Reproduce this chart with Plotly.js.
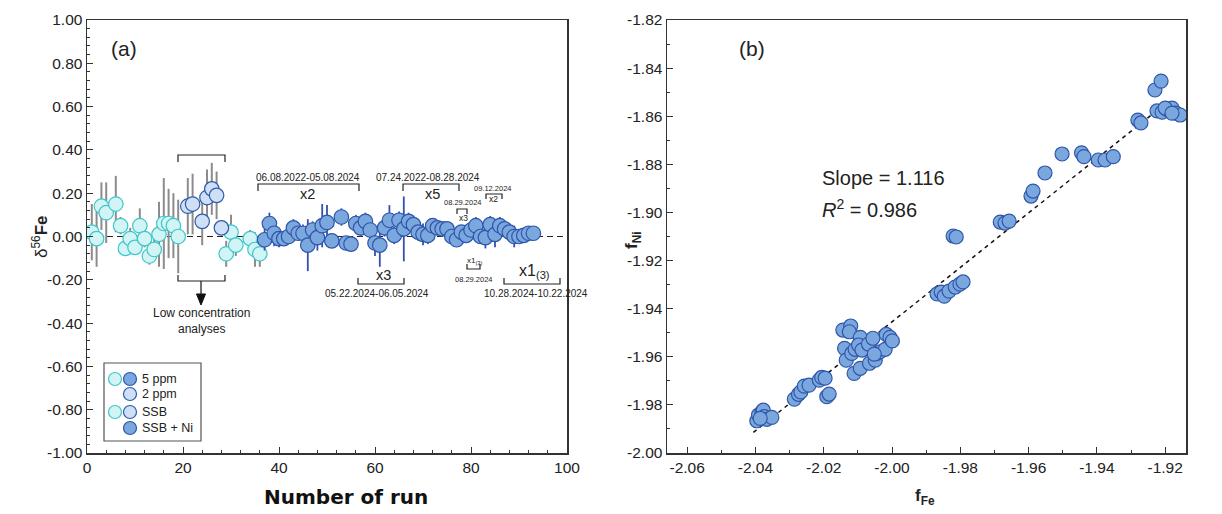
<!DOCTYPE html>
<html><head><meta charset="utf-8">
<script src="https://cdn.plot.ly/plotly-3.0.1.min.js"></script>
<style>html,body{margin:0;padding:0;background:#fff}#chart{width:1222px;height:514px}</style>
</head><body><div id="chart"></div>
<script>
// ---------- Panel (a) data ----------
const ssbRun = [1,2,3,4,6,7,8,9,10,11,12,13,14,15,16,17,18,19,29,30,31,34,35,36];
const ssbDelta = [0.02,-0.01,0.14,0.11,0.15,0.05,-0.055,-0.01,-0.05,0.05,-0.01,-0.09,-0.06,0.01,0.06,0.06,0.05,0.00,-0.08,0.02,-0.04,-0.01,-0.06,-0.08];
const ssbErr = [0.13,0.13,0.11,0.14,0.13,0.04,0.03,0.05,0.03,0.08,0.04,0.04,0.05,0.15,0.21,0.16,0.15,0.17,0.06,0.08,0.05,0.04,0.08,0.06];

const lowRun = [21,22,24,25,26,27,28];
const lowDelta = [0.14,0.15,0.07,0.18,0.22,0.19,0.04];
const lowErr = [0.13,0.14,0.11,0.13,0.12,0.11,0.03];

const niRun = [37,38,39,40,41,42,43,44,45,46,47,48,49,50,51,53,54,55,56,57,58,59,60,61,62,63,64,65,66,67,68,69,70,71,72,73,74,75,76,77,78,79,80,81,82,83,84,85,86,87,88,89,90,91,92,93];
const niDelta = [-0.015,0.06,0.015,-0.01,-0.01,0.00,0.04,0.015,0.015,-0.04,0.03,-0.005,0.05,0.065,-0.02,0.09,-0.03,-0.035,0.06,0.04,0.07,0.03,-0.03,-0.04,0.04,0.075,0.005,0.075,0.035,0.07,0.055,0.02,0.01,0.005,0.05,0.04,0.035,0.035,0.00,-0.015,0.02,0.005,0.03,0.05,0.00,-0.005,0.055,0.01,0.05,0.035,0.02,0.00,0.00,0.005,0.015,0.015];
const niErr = [0.05,0.05,0.06,0.04,0.03,0.03,0.04,0.03,0.04,0.12,0.04,0.06,0.10,0.08,0.03,0.04,0.03,0.03,0.04,0.04,0.04,0.05,0.06,0.10,0.04,0.07,0.04,0.04,0.15,0.04,0.03,0.04,0.05,0.04,0.03,0.03,0.03,0.03,0.03,0.03,0.03,0.03,0.04,0.04,0.03,0.05,0.04,0.06,0.04,0.03,0.04,0.05,0.03,0.03,0.03,0.02];

const aYTicks = [-1.0,-0.8,-0.6,-0.4,-0.2,0.0,0.2,0.4,0.6,0.8,1.0];
const aXTicks = [0,20,40,60,80,100];

// ---------- Panel (b) data ----------
const fFe = [-2.0396,-2.0391,-2.0381,-2.0377,-2.0374,-2.0367,-2.0352,-2.0386,
  -2.0286,-2.0274,-2.0267,-2.0257,-2.0243,-2.0213,-2.0206,-2.0196,-2.0191,-2.0184,
  -2.0144,-2.0121,-2.0125,-2.0139,-2.0134,-2.0118,-2.0108,-2.0093,-2.0098,-2.0088,-2.0111,-2.0093,-2.0069,-2.0056,-2.0066,-2.0049,-2.0044,-2.0035,-2.0020,-2.0017,-2.0006,-1.9999,-2.0052,
  -1.9868,-1.9856,-1.9847,-1.9833,-1.9815,-1.9801,-1.9792,
  -1.9821,-1.9812,
  -1.9683,-1.9669,-1.9657,
  -1.9593,-1.9587,-1.9552,-1.9502,
  -1.9445,-1.9438,-1.9396,-1.9376,-1.9352,
  -1.9280,-1.9271,-1.9230,-1.9212,-1.9224,-1.9209,-1.9192,-1.9180,-1.9168,-1.9156,-1.9200,-1.9180];
const fNi = [-1.9866,-1.9842,-1.9829,-1.9822,-1.9849,-1.9860,-1.9852,-1.9856,
  -1.9776,-1.9756,-1.9746,-1.9722,-1.9718,-1.9697,-1.9686,-1.9689,-1.9766,-1.9755,
  -1.9489,-1.9472,-1.9496,-1.9565,-1.9614,-1.9586,-1.9569,-1.9519,-1.9551,-1.9572,-1.9669,-1.9648,-1.9547,-1.9523,-1.9627,-1.9614,-1.9586,-1.9579,-1.9569,-1.9507,-1.9519,-1.9534,-1.9589,
  -1.9339,-1.9331,-1.9348,-1.9327,-1.9310,-1.9298,-1.9289,
  -1.9098,-1.9102,
  -1.9040,-1.9044,-1.9036,
  -1.8932,-1.8911,-1.8836,-1.8757,
  -1.8752,-1.8768,-1.8782,-1.8782,-1.8768,
  -1.8616,-1.8628,-1.8491,-1.8454,-1.8578,-1.8583,-1.8574,-1.8566,-1.8587,-1.8595,-1.8566,-1.8587];
const bXTicks = [-2.06,-2.04,-2.02,-2.00,-1.98,-1.96,-1.94,-1.92];
const bYTicks = [-2.00,-1.98,-1.96,-1.94,-1.92,-1.90,-1.88,-1.86,-1.84,-1.82];
const slopeText = 'Slope = 1.116';
const r2Text = '<i>R</i><sup>2</sup> = 0.986';

// least-squares fit line through panel (b) data
function fit(xs, ys){
  const n = xs.length; let sx=0,sy=0,sxx=0,sxy=0;
  for(let i=0;i<n;i++){sx+=xs[i];sy+=ys[i];sxx+=xs[i]*xs[i];sxy+=xs[i]*ys[i];}
  const m=(n*sxy-sx*sy)/(n*sxx-sx*sx); const b=(sy-m*sx)/n; return [m,b];
}
const [fm, fb] = fit(fFe, fNi);
const fitX = [Math.min(...fFe)-0.001, Math.max(...fFe)-0.005];
const fitY = fitX.map(v => fm*v+fb);

// ---------- helpers (pixel -> paper) ----------
const W=1222, H=514;
const px = v => v/W, py = v => 1 - v/H;
function pathPx(pts){ return pts.map((p,i)=>(i?'L':'M')+px(p[0]).toFixed(5)+','+py(p[1]).toFixed(5)).join(' '); }
const dark = '#222';
const FONT = 'Liberation Sans, Arial, sans-serif';

const traces = [
  {x: ssbRun, y: ssbDelta, type:'scatter', mode:'markers', xaxis:'x', yaxis:'y',
   error_y:{type:'data', array: ssbErr, visible:true, color:'#8c8c8c', thickness:2, width:0},
   marker:{size:14.5, color:'#d3f4f5', line:{color:'#3ec7c9', width:1.2}}, hoverinfo:'skip'},
  {x: lowRun, y: lowDelta, type:'scatter', mode:'markers', xaxis:'x', yaxis:'y',
   error_y:{type:'data', array: lowErr, visible:true, color:'#8c8c8c', thickness:2, width:0},
   marker:{size:14.5, color:'#cfe0f6', line:{color:'#2f5bab', width:1.2}}, hoverinfo:'skip'},
  {x: niRun, y: niDelta, type:'scatter', mode:'markers', xaxis:'x', yaxis:'y',
   error_y:{type:'data', array: niErr, visible:true, color:'#3450b3', thickness:1.8, width:0},
   marker:{size:14.5, color:'#7ba7df', line:{color:'#2f56a8', width:1.2}}, hoverinfo:'skip'},
  {x: fitX, y: fitY, type:'scatter', mode:'lines', xaxis:'x2', yaxis:'y2',
   line:{color:'#111', width:1.5, dash:'4px,4px'}, hoverinfo:'skip'},
  {x: fFe, y: fNi, type:'scatter', mode:'markers', xaxis:'x2', yaxis:'y2',
   marker:{size:14, color:'#7ba7df', line:{color:'#2f56a8', width:1.2}}, hoverinfo:'skip'}
];

const axBase = {showgrid:false, zeroline:false, showline:true, linecolor:'#333', linewidth:1.5, mirror:true,
  ticks:'inside', ticklen:6, tickwidth:1, tickcolor:'#333', tickfont:{family:FONT, size:15.5, color:dark}};

const layout = {
  width:W, height:H, margin:{l:0,r:0,t:0,b:0}, showlegend:false,
  paper_bgcolor:'#fff', plot_bgcolor:'#fff',
  xaxis: Object.assign({}, axBase, {domain:[px(87), px(567)], range:[0,100], anchor:'y',
    tickvals:aXTicks, ticktext:aXTicks.map(String), minor:{dtick:4, ticklen:3, ticks:'inside', tickcolor:'#333'}}),
  yaxis: Object.assign({}, axBase, {domain:[py(453), py(20)], range:[-1,1], anchor:'x',
    tickvals:aYTicks, ticktext:aYTicks.map(v=>v.toFixed(2)), minor:{dtick:0.04, ticklen:3, ticks:'inside', tickcolor:'#333'}}),
  xaxis2: Object.assign({}, axBase, {domain:[px(667), px(1186)], range:[-2.0659,-1.9139], anchor:'y2',
    tickvals:bXTicks, ticktext:bXTicks.map(v=>v.toFixed(2)), minor:{dtick:0.01, ticklen:3, ticks:'inside', tickcolor:'#333'}}),
  yaxis2: Object.assign({}, axBase, {domain:[py(453), py(20)], range:[-2.0,-1.82], anchor:'x2',
    tickvals:bYTicks, ticktext:bYTicks.map(v=>v.toFixed(2)), minor:{dtick:0.01, ticklen:3, ticks:'inside', tickcolor:'#333'}}),
  shapes: [],
  annotations: []
};

// zero dashed line in panel (a)
layout.shapes.push({type:'line', xref:'x domain', yref:'y', x0:0, x1:1, y0:0, y1:0, layer:'below',
  line:{color:'#222', width:1.2, dash:'6px,4px'}});

function addBracket(pts){
  layout.shapes.push({type:'path', xref:'paper', yref:'paper', path:pathPx(pts), line:{color:'#222', width:1.2}});
}
function addText(t, x, y, size, opts){
  layout.annotations.push(Object.assign({text:t, xref:'paper', yref:'paper', x:px(x), y:py(y), showarrow:false,
    xanchor:'center', yanchor:'middle', font:{family:FONT, size:size, color:dark}}, opts||{}));
}

// Low-concentration brackets
addBracket([[178,162],[178,155],[225,155],[225,162]]);
addBracket([[178,275],[178,281],[225,281],[225,275]]);
layout.shapes.push({type:'line', xref:'paper', yref:'paper', x0:px(201), x1:px(201), y0:py(281), y1:py(296),
  line:{color:'#111', width:1.2}});
layout.shapes.push({type:'path', xref:'paper', yref:'paper', path:pathPx([[196.5,294],[205.5,294],[201,305]])+' Z',
  fillcolor:'#111', line:{color:'#111', width:1}});
addText('Low concentration<br>analyses', 201, 321, 12);

// date brackets
addBracket([[258,191],[258,184],[359,184],[359,191]]);
addText('06.08.2022-05.08.2024', 308, 177, 10);
addText('x2', 307, 194, 14.5);
addBracket([[403,191],[403,184],[459,184],[459,191]]);
addText('07.24.2022-08.28.2024', 428, 177, 10);
addText('x5', 432, 194, 14.5);
addBracket([[486,199],[486,194],[502,194],[502,199]]);
addText('09.12.2024', 493, 188, 7.5);
addText('x2', 494, 199.5, 8.5);
addBracket([[457,214],[457,209],[467,209],[467,214]]);
addText('08.29.2024', 463, 203, 7.5);
addText('x3', 463, 218, 8.5);
addBracket([[358,278],[358,284],[404,284],[404,278]]);
addText('x3', 383, 275, 14.5);
addText('05.22.2024-06.05.2024', 377, 293, 10);
addBracket([[467,264],[467,269],[480,269],[480,264]]);
addText('x1<sub>(3)</sub>', 474, 261, 8);
addText('08.29.2024', 474, 279, 7.5);
addBracket([[504,278],[504,284],[560,284],[560,278]]);
addText('x1<sub>(3)</sub>', 534, 271, 16);
addText('10.28.2024-10.22.2024', 536, 293, 10);

// panel labels
addText('(a)', 124, 48, 21);
addText('(b)', 752, 48, 21);

// legend box
layout.shapes.push({type:'rect', xref:'paper', yref:'paper', x0:px(104), x1:px(201), y0:py(441), y1:py(363),
  line:{color:'#555', width:1.2}, fillcolor:'#fff'});
function legCircle(cx, cy, fill, edge){
  layout.shapes.push({type:'circle', xref:'paper', yref:'paper', xsizemode:'pixel', ysizemode:'pixel',
    xanchor:px(cx), yanchor:py(cy), x0:-6.5, x1:6.5, y0:-6.5, y1:6.5, fillcolor:fill, line:{color:edge, width:1.2}});
}
legCircle(115,379,'#d3f4f5','#3ec7c9'); legCircle(130,379,'#7ba7df','#2f56a8');
legCircle(130,394,'#cfe0f6','#2f5bab');
legCircle(115,412,'#d3f4f5','#3ec7c9'); legCircle(130,412,'#cfe0f6','#2f5bab');
legCircle(130,428,'#7ba7df','#2f56a8');
addText('5 ppm', 140, 379, 12.5, {xanchor:'left'});
addText('2 ppm', 140, 394, 12.5, {xanchor:'left'});
addText('SSB', 140, 412, 12.5, {xanchor:'left'});
addText('SSB + Ni', 140, 428, 12.5, {xanchor:'left'});

// axis titles
addText('δ<sup>56</sup><b>Fe</b>', 40, 237, 17, {textangle:-90});
addText('<b>Number of run</b>', 346, 497, 20, {font:{family:'DejaVu Sans, sans-serif', size:20, color:'#111'}});
addText('<b>f<sub>Ni</sub></b>', 633, 240, 17, {textangle:-90});
addText('<b>f<sub>Fe</sub></b>', 925, 497, 17);

// fit stats
addText(slopeText, 820, 178, 20, {xanchor:'left'});
addText(r2Text, 820, 208, 20, {xanchor:'left'});

Plotly.newPlot('chart', traces, layout, {staticPlot:true, displayModeBar:false});
</script></body></html>
